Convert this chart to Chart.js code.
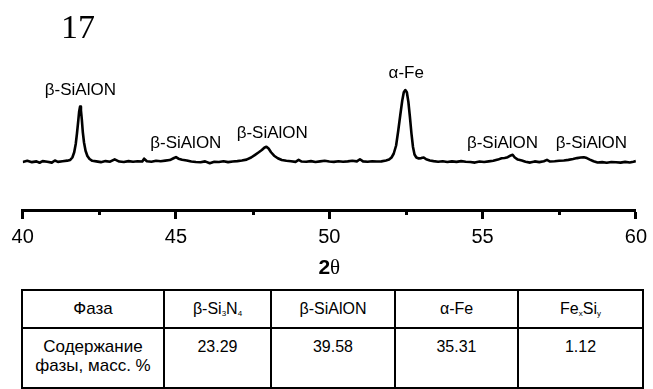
<!DOCTYPE html>
<html>
<head>
<meta charset="utf-8">
<script src="https://cdn.jsdelivr.net/npm/chart.js@4.4.0/dist/chart.umd.min.js"></script>
<style>
  body { margin: 0; background: #fff; }
  #wrap { position: relative; width: 653px; height: 389px; overflow: hidden; }
  #grafico { position: absolute; left: 0; top: 0; }
  table {
    position: absolute; left: 21px; top: 289px;
    border-collapse: collapse; table-layout: fixed;
    font-family: "Liberation Sans", Arial, sans-serif; font-size: 16px; color: #000;
  }
  td { border: 2px solid #000; text-align: center; padding: 0; line-height: 19px; }
  tr.h td { height: 35px; padding-bottom: 1px; }
  tr.v td { height: 50px; vertical-align: top; padding-top: 8px; }
  td.first { font-size: 17px; }
  sub { font-size: 8px; vertical-align: -2px; line-height: 0; }
</style>
</head>
<body>
<div id="wrap">
<canvas id="grafico" width="653" height="285"></canvas>
<table>
  <colgroup><col style="width:142px"><col style="width:107px"><col style="width:124px"><col style="width:123px"><col style="width:125px"></colgroup>
  <tr class="h"><td class="first">Фаза</td><td>β-Si<sub>3</sub>N<sub>4</sub></td><td>β-SiAlON</td><td>α-Fe</td><td>Fe<sub>x</sub>Si<sub>y</sub></td></tr>
  <tr class="v"><td class="first">Содержание<br>фазы, масс. %</td><td>23.29</td><td>39.58</td><td>35.31</td><td>1.12</td></tr>
</table>
</div>
<script>
var ctx = document.getElementById('grafico').getContext('2d');

// Difratograma (2θ, intensidade relativa)
var twoTheta = [
  40.00, 40.15, 40.30, 40.45, 40.55, 40.65, 40.80, 40.95, 41.05, 41.15,
  41.30, 41.45, 41.55, 41.62, 41.68, 41.73, 41.77, 41.81, 41.84, 41.87,
  41.90, 41.93, 41.96, 42.00, 42.05, 42.11, 42.18, 42.27, 42.40, 42.55,
  42.70, 42.85, 43.00, 43.15, 43.30, 43.45, 43.60, 43.75, 43.90, 43.96,
  44.05, 44.20, 44.35, 44.50, 44.65, 44.80, 44.92, 45.00, 45.08, 45.20,
  45.35, 45.50, 45.65, 45.80, 45.95, 46.10, 46.25, 46.40, 46.55, 46.70,
  46.85, 47.00, 47.15, 47.30, 47.45, 47.58, 47.70, 47.80, 47.88, 47.95,
  48.02, 48.10, 48.20, 48.32, 48.45, 48.60, 48.75, 48.90, 49.00, 49.10,
  49.25, 49.40, 49.55, 49.70, 49.85, 50.00, 50.15, 50.30, 50.45, 50.60,
  50.75, 50.90, 51.00, 51.10, 51.25, 51.40, 51.55, 51.70, 51.85, 51.95,
  52.03, 52.10, 52.18, 52.25, 52.32, 52.38, 52.43, 52.48, 52.53, 52.58,
  52.63, 52.68, 52.73, 52.78, 52.84, 52.92, 53.00, 53.08, 53.16, 53.28,
  53.40, 53.55, 53.70, 53.85, 54.00, 54.15, 54.30, 54.45, 54.60, 54.75,
  54.90, 55.05, 55.20, 55.35, 55.50, 55.62, 55.72, 55.82, 55.92, 55.98,
  56.05, 56.15, 56.28, 56.40, 56.55, 56.70, 56.85, 57.00, 57.10, 57.20,
  57.35, 57.50, 57.65, 57.80, 57.95, 58.08, 58.20, 58.30, 58.40, 58.50,
  58.62, 58.75, 58.90, 59.05, 59.20, 59.35, 59.50, 59.65, 59.80, 59.92,
  60.00
];
var intensity = [
  32.0, 32.8, 31.9, 32.4, 31.5, 32.6, 32.2, 31.6, 33.0, 32.1,
  32.5, 32.9, 33.4, 35.0, 38.5, 44.0, 51.0, 59.0, 65.5, 68.9,
  66.5, 60.0, 52.0, 45.0, 39.5, 36.0, 34.0, 32.8, 32.4, 31.9,
  32.6, 32.2, 33.8, 32.3, 32.0, 32.6, 32.2, 32.5, 32.3, 34.2,
  32.5, 32.2, 32.8, 32.5, 32.9, 33.3, 34.5, 35.3, 34.2, 33.5,
  33.0, 32.3, 32.0, 31.8, 32.4, 31.2, 32.2, 32.0, 32.5, 31.9,
  32.3, 32.6, 33.0, 33.6, 35.0, 36.8, 38.5, 40.0, 41.5, 42.2,
  41.0, 38.5, 36.2, 34.5, 33.3, 32.8, 32.5, 32.1, 33.4, 32.3,
  32.2, 32.6, 32.0, 32.4, 32.8, 32.3, 32.1, 32.5, 32.2, 32.4,
  32.8, 32.4, 33.8, 32.4, 32.2, 32.5, 32.3, 32.4, 33.0, 33.6,
  35.0, 37.5, 43.0, 53.0, 64.0, 73.0, 78.5, 80.0, 78.5, 72.0,
  62.0, 51.0, 42.0, 37.0, 35.0, 34.3, 34.6, 35.0, 33.8, 33.0,
  32.6, 32.2, 32.5, 32.0, 32.4, 32.1, 32.6, 32.2, 32.0, 31.6,
  32.3, 32.0, 32.4, 32.8, 33.6, 34.5, 34.7, 35.2, 36.4, 36.8,
  35.0, 33.6, 33.0, 32.2, 31.6, 32.4, 31.9, 32.5, 33.4, 32.3,
  32.5, 32.8, 33.0, 33.4, 34.0, 34.6, 35.0, 35.2, 34.6, 33.6,
  32.5, 31.7, 31.9, 31.5, 32.0, 31.8, 31.6, 32.1, 31.7, 32.2,
  32.6
];

// Rótulos dos picos
var peakNames = ['β-SiAlON', 'β-SiAlON', 'β-SiAlON', 'α-Fe', 'β-SiAlON', 'β-SiAlON'];
var peakLabelX = [41.88, 45.32, 48.14, 52.51, 55.65, 58.55];
var peakLabelY = [80, 44.7, 51.3, 91.3, 44.7, 44.7];

// Eixo X
var majorTicks = [40, 45, 50, 55, 60];
var minorTicks = [42.5, 47.5, 52.5, 57.5];
var sampleNo = '17';

var points = twoTheta.map(function (t, i) { return { x: t, y: intensity[i] }; });

var extras = {
  id: 'extras',
  afterDraw: function (chart) {
    var c = chart.ctx, xs = chart.scales.x, ys = chart.scales.y;
    c.save();
    c.fillStyle = '#000';
    c.strokeStyle = '#000';
    // marcas menores
    c.lineWidth = 3;
    minorTicks.forEach(function (v) {
      var px = Math.round(xs.getPixelForValue(v)) + 0.5;
      c.beginPath();
      c.moveTo(px, xs.top);
      c.lineTo(px, xs.top + 5);
      c.stroke();
    });
    // rótulos
    c.font = '17px "Liberation Sans", Arial, sans-serif';
    c.textAlign = 'center';
    c.textBaseline = 'middle';
    peakNames.forEach(function (n, i) {
      c.fillText(n, xs.getPixelForValue(peakLabelX[i]), ys.getPixelForValue(peakLabelY[i]));
    });
    // título do eixo 2θ
    var cx = (chart.chartArea.left + chart.chartArea.right) / 2;
    c.textAlign = 'left';
    c.textBaseline = 'alphabetic';
    c.font = 'bold 21px "Liberation Sans", Arial, sans-serif';
    var w2 = c.measureText('2').width;
    c.font = '21px "Liberation Serif", serif';
    var wt = c.measureText('θ').width;
    var x0 = cx - (w2 + wt) / 2;
    c.font = 'bold 21px "Liberation Sans", Arial, sans-serif';
    c.fillText('2', x0, 274);
    c.font = '21px "Liberation Serif", serif';
    c.fillText('θ', x0 + w2, 274);
    // número da amostra
    c.font = '34px "Liberation Serif", serif';
    c.fillText(sampleNo, 61, 38);
    c.restore();
  }
};

var data = {
  datasets: [{
    data: points,
    borderColor: '#000',
    borderWidth: 2.6,
    pointRadius: 0,
    fill: false,
    tension: 0,
    borderJoinStyle: 'round'
  }]
};

var options = {
  responsive: false,
  animation: false,
  layout: { padding: { top: 60, left: 22.7, right: 12.7, bottom: 0 } },
  scales: {
    x: {
      type: 'linear',
      min: 40,
      max: 60,
      afterBuildTicks: function (scale) {
        scale.ticks = majorTicks.map(function (v) { return { value: v }; });
      },
      afterFit: function (scale) { scale.height = 75; },
      ticks: {
        color: '#000',
        padding: 6,
        maxRotation: 0,
        font: { family: '"Liberation Sans", Arial, sans-serif', size: 20 }
      },
      grid: {
        drawOnChartArea: false,
        tickLength: 9,
        tickWidth: 3,
        tickColor: '#000'
      },
      border: { display: true, color: '#000', width: 3 }
    },
    y: {
      display: false,
      min: 0,
      max: 100
    }
  },
  plugins: {
    legend: { display: false },
    tooltip: { enabled: false }
  }
};

var grafico = new Chart(ctx, {
  type: 'line',
  data: data,
  options: options,
  plugins: [extras]
});
</script>
</body>
</html>
